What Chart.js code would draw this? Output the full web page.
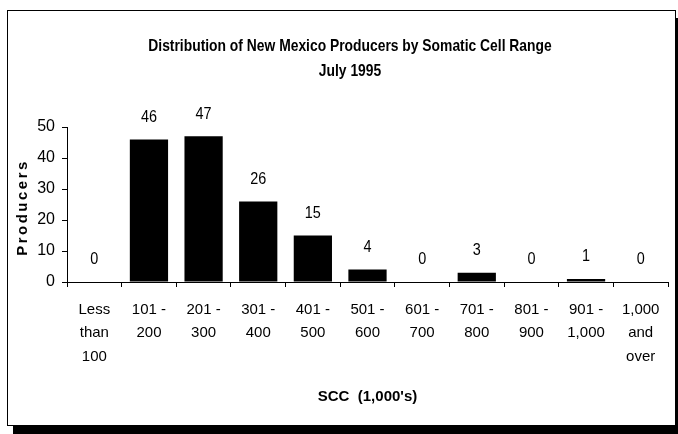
<!DOCTYPE html>
<html>
<head>
<meta charset="utf-8">
<script src="https://cdn.jsdelivr.net/npm/chart.js@4.4.1/dist/chart.umd.min.js"></script>
<style>
  html, body { margin: 0; padding: 0; background: #fff; }
  #frame {
    position: absolute; left: 7px; top: 10px;
    width: 667px; height: 414px;
    border: 1px solid #000;
    box-shadow: 6px 8px 0 #000;
    background: #fff;
  }
  #chart { position: absolute; left: 0; top: 0; }
</style>
</head>
<body>
<div id="frame"></div>
<canvas id="chart" width="678" height="434"></canvas>
<script>
// Chart data
const categories = [
    ['Less', 'than', '100'],
    ['101 -', '200'],
    ['201 -', '300'],
    ['301 -', '400'],
    ['401 -', '500'],
    ['501 -', '600'],
    ['601 -', '700'],
    ['701 -', '800'],
    ['801 -', '900'],
    ['901 -', '1,000'],
    ['1,000', 'and', 'over']
];
const producers = [0, 46, 47, 26, 15, 4, 0, 3, 0, 1, 0];
const yTicks = [0, 10, 20, 30, 40, 50];
const titleLines = ['Distribution of New Mexico Producers by Somatic Cell Range', 'July 1995'];
const yTitle = 'Producers';
const xTitle = "SCC  (1,000's)";

const FONT = "'Liberation Sans', Arial, sans-serif";

// draw text squeezed horizontally, the reference uses a narrow face
function narrowText(ctx, text, x, y, squeeze) {
    ctx.save();
    ctx.translate(x, y);
    ctx.scale(squeeze, 1);
    ctx.fillText(text, 0, 0);
    ctx.restore();
}

// Value labels above each bar, plus title and rotated y title
const labelsPlugin = {
    id: 'valueLabels',
    afterDraw(chart) {
        const ctx = chart.ctx;
        const meta = chart.getDatasetMeta(0);
        ctx.save();
        ctx.fillStyle = '#000';
        ctx.textAlign = 'center';
        ctx.textBaseline = 'middle';
        ctx.font = '16px ' + FONT;
        meta.data.forEach((bar, i) => {
            narrowText(ctx, String(producers[i]), bar.x, bar.y - 22, 0.9);
        });

        // main title
        ctx.font = 'bold 17px ' + FONT;
        titleLines.forEach((line, i) => {
            narrowText(ctx, line, 350, 46 + i * 25, 0.815);
        });

        // y axis title, letter spaced
        ctx.translate(23, (chart.chartArea.top + chart.chartArea.bottom) / 2 + 3);
        ctx.rotate(-Math.PI / 2);
        ctx.font = 'bold 15px ' + FONT;
        ctx.letterSpacing = '2.5px';
        ctx.fillText(yTitle, 0, 0);
        ctx.restore();
    }
};

new Chart(document.getElementById('chart'), {
    type: 'bar',
    data: {
        labels: categories,
        datasets: [{
            data: producers,
            backgroundColor: '#000',
            borderWidth: 0,
            barPercentage: 0.7,
            categoryPercentage: 1.0
        }]
    },
    options: {
        responsive: false,
        animation: false,
        devicePixelRatio: 1,
        layout: {
            padding: { top: 127, left: 0, right: 10, bottom: 28 }
        },
        plugins: {
            legend: { display: false },
            tooltip: { enabled: false },
            title: { display: false }
        },
        scales: {
            x: {
                grid: {
                    offset: true,
                    drawOnChartArea: false,
                    drawTicks: true,
                    tickLength: 5,
                    color: '#000'
                },
                border: { color: '#000', width: 1 },
                ticks: {
                    color: '#000',
                    padding: 11,
                    maxRotation: 0,
                    autoSkip: false,
                    font: { family: FONT, size: 15, lineHeight: 1.57 }
                },
                title: {
                    display: true,
                    text: xTitle,
                    color: '#000',
                    padding: 0,
                    font: { family: FONT, size: 15, weight: 'bold', lineHeight: 1.2 }
                },
                afterFit(scale) {
                    scale.height = 124;
                }
            },
            y: {
                min: 0,
                max: 50,
                grid: {
                    drawOnChartArea: false,
                    drawTicks: true,
                    tickLength: 5,
                    color: '#000'
                },
                border: { color: '#000', width: 1 },
                afterBuildTicks(scale) {
                    scale.ticks = yTicks.map(v => ({ value: v }));
                },
                ticks: {
                    color: '#000',
                    padding: 7,
                    font: { family: FONT, size: 16 }
                },
                afterFit(scale) {
                    scale.width = 67;
                }
            }
        }
    },
    plugins: [labelsPlugin]
});
</script>
</body>
</html>
